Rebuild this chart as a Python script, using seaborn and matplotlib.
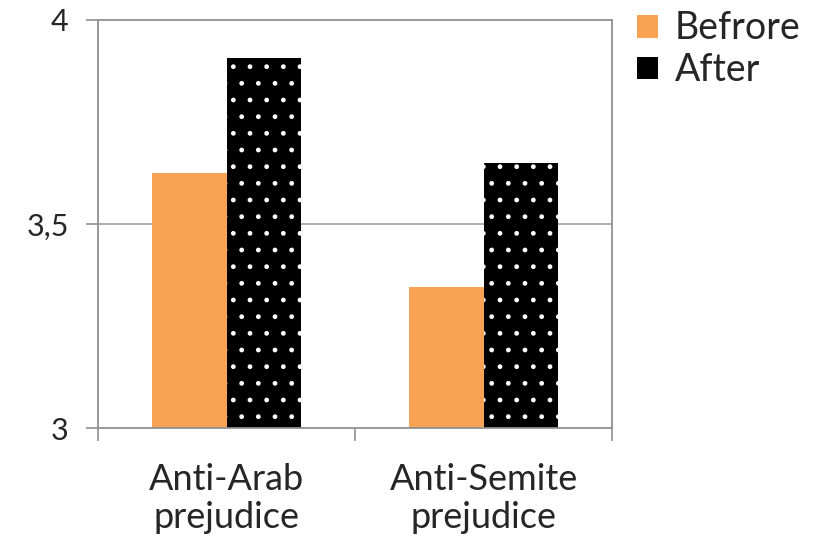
import pandas as pd
import matplotlib
matplotlib.use("Agg")
import matplotlib.pyplot as plt
import seaborn as sns

# values
categories = ["Anti-Arab\nprejudice", "Anti-Semite\nprejudice"]
groups = ["Befrore", "After"]
before_vals = [3.626, 3.346]
after_vals = [3.906, 3.650]
ytick_vals = [3, 3.5, 4]
ytick_labels = ["3", "3,5", "4"]

df = pd.DataFrame({
    "category": categories * 2,
    "group": [groups[0]] * 2 + [groups[1]] * 2,
    "value": before_vals + after_vals,
})

sns.set_style("white")
plt.rcParams["font.family"] = ["Lato", "DejaVu Sans"]
plt.rcParams["hatch.linewidth"] = 1.0

fig = plt.figure(figsize=(8.23, 5.4), dpi=100)
ax = fig.add_axes([0.119, 0.207, 0.625, 0.756])

sns.barplot(data=df, x="category", y="value", hue="group",
            palette={"Befrore": "#F8A254", "After": "#000000"},
            width=0.58, gap=0, linewidth=0, saturation=1, ax=ax)

# dotted pattern on the "After" bars
for bar in ax.containers[1]:
    bar.set_hatch(".")
    bar.set_edgecolor("white")
    bar.set_linewidth(0)

ax.set_ylim(3, 4)
ax.set_xlim(-0.5, 1.5)
ax.set_yticks(ytick_vals)
ax.set_yticklabels(ytick_labels)
ax.axhline(3.5, color="#a0a0a0", lw=1.2, zorder=0)
ax.set_xlabel("")
ax.set_ylabel("")

for s in ax.spines.values():
    s.set_color("#909090")
    s.set_linewidth(1.3)

ax.tick_params(axis="y", left=True, length=9, width=1.2, color="#909090",
               labelsize=22, pad=12)
ax.tick_params(axis="x", which="major", bottom=False, length=0, labelsize=26, pad=25)
ax.set_xticks([-0.5, 0.5, 1.5], minor=True)
ax.tick_params(axis="x", which="minor", bottom=True, length=9, width=1.2, color="#909090")
for lab in ax.get_xticklabels():
    lab.set_linespacing(1.2)

leg = ax.legend(loc="upper left", bbox_to_anchor=(1.019, 1.06), frameon=False,
                fontsize=27, handlelength=0.55, handleheight=0.55,
                handletextpad=0.45, labelspacing=0.15, borderaxespad=0)

fig.savefig("out.png", dpi=100)
